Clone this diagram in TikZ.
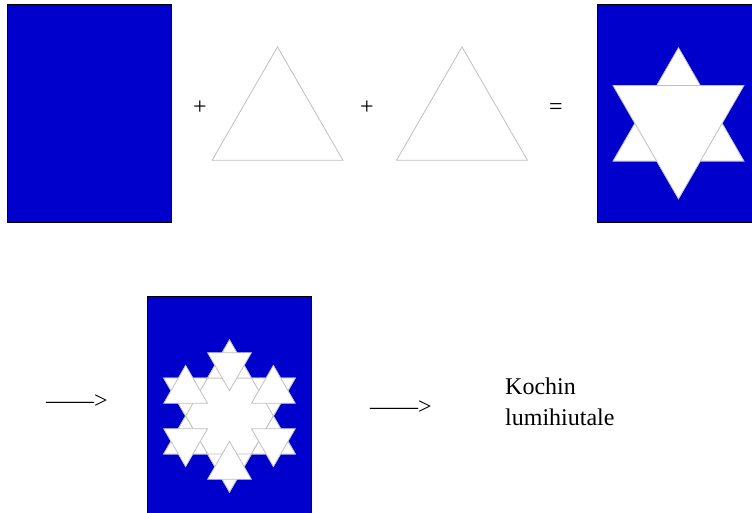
\documentclass[tikz,border=0pt]{standalone}
\usepackage{fontspec}
\setmainfont{Liberation Serif}
\usetikzlibrary{calc}
\definecolor{kochblue}{HTML}{0000CC}
\definecolor{edgegray}{HTML}{C0C0C0}

\begin{document}
\begin{tikzpicture}[
    x=1pt, y=-1pt,
    panel/.style={draw=black, fill=kochblue, line width=1pt},
    tri/.style={draw=edgegray, fill=white, line width=0.8pt},
    sign/.style={font=\fontsize{24}{31}\selectfont, inner sep=0pt}
]
\clip (0,0) rectangle (752,512);

% ===== TOP ROW: panel + triangle + triangle = star =====
\draw[panel] (7,4) rectangle (171,222);
\node[sign] (plus1) at (200,108) {+};
\draw[tri, shift={(277.5,122.5)}] (-90:75.6) -- (30:75.6) -- (150:75.6) -- cycle;
\node[sign] (plus2) at (367,108) {+};
\draw[tri, shift={(462,122.5)}] (-90:75.6) -- (30:75.6) -- (150:75.6) -- cycle;
\node[sign] (equals) at (556,109) {=};

% Star panel
\draw[panel] (597,4) rectangle (752,222);
\draw[tri, shift={(678.5,123.3)}] (-90:75.6) -- (30:75.6) -- (150:75.6) -- cycle;
\draw[tri, shift={(678.5,123.3)}] (90:75.6) -- (210:75.6) -- (330:75.6) -- cycle;

% ===== BOTTOM ROW: arrow, snowflake, arrow, label =====
\node[sign] (arrowA) at (77,402) {\textemdash\textemdash>};

\draw[panel] (147,296) rectangle (311,520);
\begin{scope}[shift={(229.5,416)}]
    \draw[tri] (-90:76) -- (30:76) -- (150:76) -- cycle;
    \draw[tri] (90:76) -- (210:76) -- (330:76) -- cycle;
    % small stars on the six tips
    \foreach \a in {-90,30,150,90,210,330} {
        \begin{scope}[shift={(\a:50.67)}]
            \draw[tri] (\a:25.33) -- (\a+120:25.33) -- (\a+240:25.33) -- cycle;
            \draw[tri] (\a+60:25.33) -- (\a+180:25.33) -- (\a+300:25.33) -- cycle;
        \end{scope}
    }
\end{scope}

\node[sign] (arrowB) at (401,408) {\textemdash\textemdash>};
\node[sign, anchor=north west, align=left] (label) at (505,378) {Kochin\\lumihiutale};

\end{tikzpicture}
\end{document}
